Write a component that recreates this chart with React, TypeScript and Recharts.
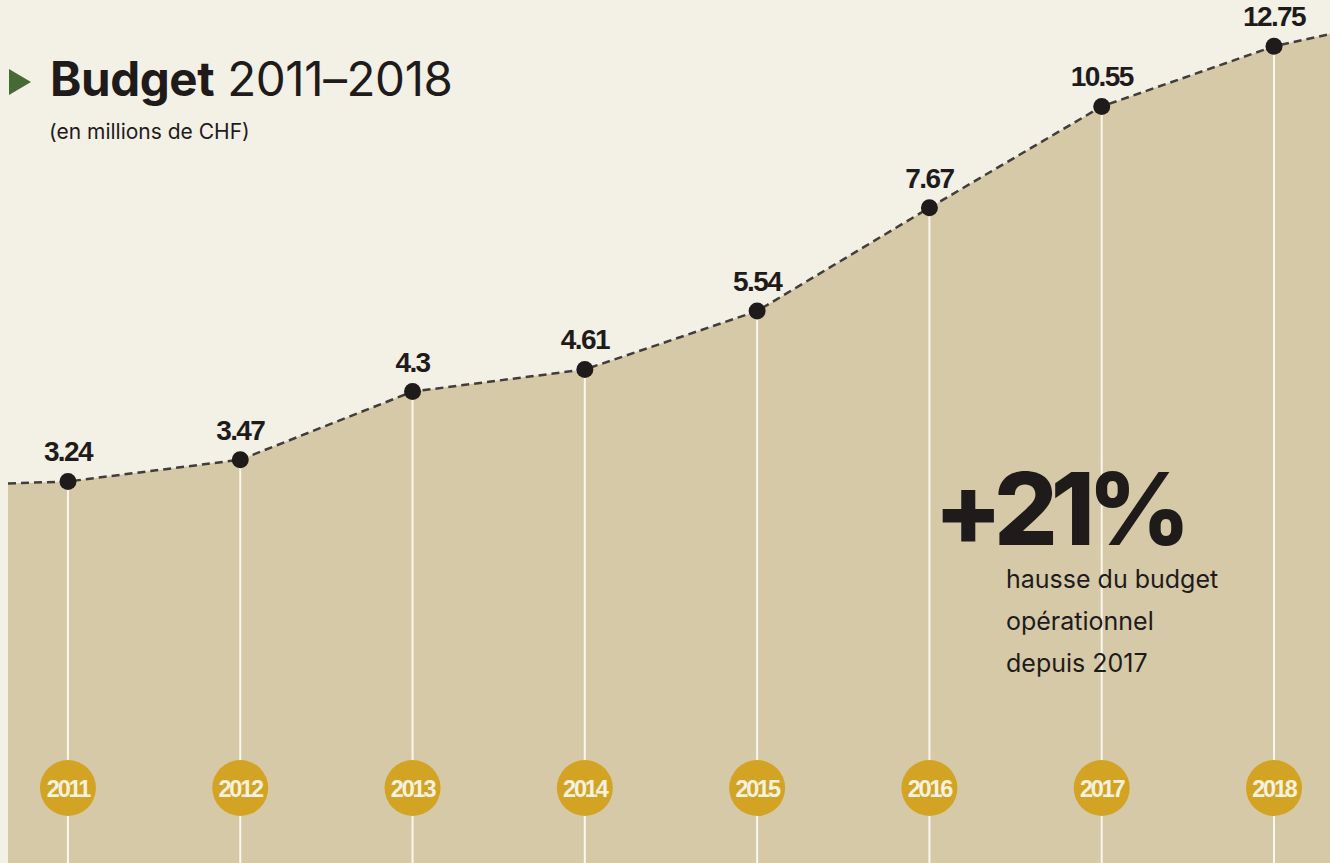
import {
  ComposedChart,
  Area,
  Line,
  XAxis,
  YAxis,
  ReferenceLine,
  LabelList,
} from "recharts";

// budget in millions CHF
const years = [2011, 2012, 2013, 2014, 2015, 2016, 2017, 2018];
const budget = [3.24, 3.47, 4.3, 4.61, 5.54, 7.67, 10.55, 12.75];
// the curve runs on past the first and last year to the edges of the graphic
const edgeYears = [2010.652, 2018.325];
const edgeBudget = [3.22, 13.25];

const W = 1330;
const H = 863;
const Y_DOMAIN: [number, number] = [0.975, 14.75];

const BG = "#f3f0e6";
const AREA = "#d6c9a7";
const GOLD = "#d3a424";
const INK = "#1f1b1b";

const chartData = [
  { year: edgeYears[0], value: edgeBudget[0], edge: true },
  ...years.map((y, i) => ({ year: y, value: budget[i], edge: false })),
  { year: edgeYears[1], value: edgeBudget[1], edge: true },
];

const labelFont = "'Liberation Sans', Arial, sans-serif";
const textFont = "Inter, 'Noto Sans', sans-serif";

function PointDot(props: any) {
  const { cx, cy, payload, index } = props;
  if (payload.edge) return <g key={`d${index}`} />;
  return <circle key={`d${index}`} cx={cx} cy={cy} r={8.5} fill={INK} />;
}

function ValueLabel(props: any) {
  const { x, y, value, index } = props;
  if (index === 0 || index === chartData.length - 1) return null;
  return (
    <text
      x={x}
      y={y - 20}
      textAnchor="middle"
      fontFamily={labelFont}
      fontWeight={700}
      fontSize={28}
      letterSpacing={-1.6}
      fill={INK}
    >
      {String(value)}
    </text>
  );
}

function YearTick(props: any) {
  const { x, y, payload } = props;
  return (
    <g>
      <circle cx={x} cy={y - 75} r={28} fill={GOLD} />
      <text
        x={x}
        y={y - 75}
        dy={8.5}
        textAnchor="middle"
        fontFamily={labelFont}
        fontWeight={700}
        fontSize={23.5}
        letterSpacing={-2.2}
        fill="#f7f1e1"
      >
        {payload.value}
      </text>
    </g>
  );
}

export default function App() {
  return (
    <div
      style={{
        position: "absolute",
        left: 0,
        top: 0,
        width: W,
        height: H,
        background: BG,
        overflow: "hidden",
      }}
    >
      {/* one extra px for the x axis strip, which falls just off the page */}
      <ComposedChart
        width={W}
        height={H + 1}
        data={chartData}
        margin={{ top: 0, right: 0, bottom: 0, left: 8 }}
      >
        <YAxis
          type="number"
          scale="log"
          domain={Y_DOMAIN}
          allowDataOverflow
          hide
        />
        <Area
          dataKey="value"
          type="linear"
          fill={AREA}
          fillOpacity={1}
          stroke="none"
          baseValue="dataMin"
          isAnimationActive={false}
        />
        {years.map((y, i) => (
          <ReferenceLine
            key={y}
            segment={[
              { x: y, y: budget[i] },
              { x: y, y: Y_DOMAIN[0] },
            ]}
            stroke="#faf7ee"
            strokeWidth={2}
          />
        ))}
        <Line
          dataKey="value"
          type="linear"
          stroke="#3f3e3b"
          strokeWidth={2.5}
          strokeDasharray="8 5"
          dot={PointDot}
          activeDot={false}
          isAnimationActive={false}
        >
          <LabelList dataKey="value" content={ValueLabel} />
        </Line>
        <XAxis
          dataKey="year"
          type="number"
          domain={[edgeYears[0], edgeYears[1]]}
          ticks={years}
          allowDataOverflow
          height={1}
          axisLine={false}
          tickLine={false}
          tickSize={0}
          tickMargin={0}
          interval={0}
          tick={YearTick}
        />
      </ComposedChart>

      <svg
        width={W}
        height={H}
        style={{ position: "absolute", left: 0, top: 0, pointerEvents: "none" }}
      >
        <polygon points="9,69 31,82 9,95" fill="#476a35" />
        <text x={50} y={96} fontFamily={textFont} fontSize={47.5} fill={INK} letterSpacing={-0.4}>
          <tspan fontWeight={700}>Budget</tspan>
          <tspan fontWeight={400}> 2011–2018</tspan>
        </text>
        <text x={49} y={139} fontFamily={textFont} fontSize={21} fill={INK}>
          (en millions de CHF)
        </text>

        <text
          x={934}
          y={545}
          fontFamily={textFont}
          fontWeight={800}
          fontSize={100}
          letterSpacing={-7}
          fill={INK}
        >
          +21%
        </text>
        <text x={1006} y={588} fontFamily={textFont} fontSize={25} fill={INK}>
          hausse du budget
        </text>
        <text x={1006} y={630} fontFamily={textFont} fontSize={25} fill={INK}>
          opérationnel
        </text>
        <text x={1006} y={672} fontFamily={textFont} fontSize={25} fill={INK}>
          depuis 2017
        </text>
      </svg>
    </div>
  );
}
